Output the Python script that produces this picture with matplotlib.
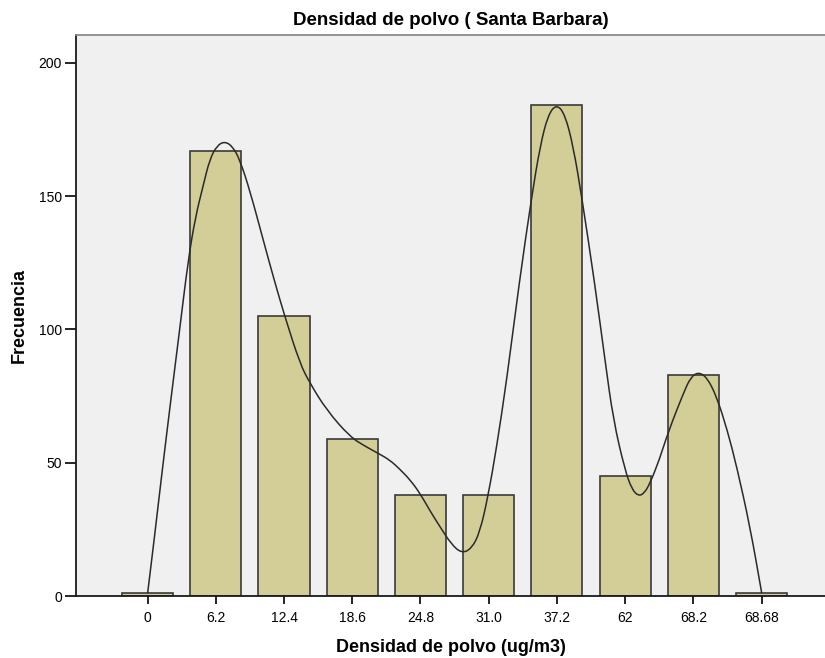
import matplotlib
matplotlib.use("Agg")
from matplotlib import pyplot as plt
from matplotlib import rcParams
from matplotlib.path import Path
from matplotlib.patches import PathPatch

rcParams["font.family"] = ["Liberation Sans", "DejaVu Sans"]

# categories (x tick labels) and frequencies
categories = ["0", "6.2", "12.4", "18.6", "24.8", "31.0", "37.2", "62", "68.2", "68.68"]
counts = [1, 167, 105, 59, 38, 38, 184, 45, 83, 1]

# smooth curve (x in category positions, y in frequency)
curve_x = [0.0, 0.1, 0.2, 0.34, 0.47, 0.595, 0.70, 0.815, 0.913, 1.02, 1.133,
           1.25, 1.353, 1.5, 1.695, 1.85, 2.013, 2.233, 2.38, 2.625, 2.967,
           3.2, 3.381, 3.55, 3.70, 3.85, 3.993, 4.15, 4.286, 4.45, 4.604, 4.75,
           4.872, 4.994, 5.117, 5.264, 5.45, 5.63, 5.752, 5.87, 5.997, 6.12,
           6.24, 6.364, 6.55, 6.705, 6.827, 6.998, 7.1, 7.194, 7.28, 7.365,
           7.5, 7.633, 7.853, 7.96, 8.073, 8.2, 8.343, 8.5, 8.636, 8.831, 9.003]
curve_y = [1, 22, 44, 73.5, 100, 126, 142, 154, 164, 169, 170.5,
           168.5, 163.5, 152, 133.5, 119, 104.7, 87.2, 79.8, 69.7, 59.7,
           56, 53.5, 51, 47.5, 43.5, 38.5, 31.5, 26, 19.5, 16, 17.8,
           24, 37.9, 56, 81, 118, 149.7, 168.5, 180.5, 184.5, 180.5,
           168.5, 149.7, 118, 88.5, 66, 47.2, 40, 37.5, 38.5, 42.3,
           51, 61.6, 76, 82, 84, 82, 74.7, 62, 48.5, 26, 1]


def smooth_path(xs, ys):
    # quadratic bezier through the midpoints, traced points as control points
    verts = [(xs[0], ys[0]), ((xs[0] + xs[1]) / 2, (ys[0] + ys[1]) / 2)]
    codes = [Path.MOVETO, Path.LINETO]
    for i in range(1, len(xs) - 1):
        verts += [(xs[i], ys[i]),
                  ((xs[i] + xs[i + 1]) / 2, (ys[i] + ys[i + 1]) / 2)]
        codes += [Path.CURVE3, Path.CURVE3]
    verts.append((xs[-1], ys[-1]))
    codes.append(Path.LINETO)
    return Path(verts, codes)


def plot():
    fig = plt.figure(figsize=(8.25, 6.58), dpi=100)
    ax = fig.add_axes([0.0921, 0.0942, 0.9079, 0.8526])
    ax.set_facecolor("#f0f0f0")

    pos = list(range(len(categories)))
    ax.bar(pos, counts, width=0.75, color="#d3ce97", edgecolor="#3a3a3a",
           linewidth=1.2, zorder=2)
    ax.add_patch(PathPatch(smooth_path(curve_x, curve_y), facecolor="none",
                           edgecolor="#2a2a2a", lw=1.1, zorder=3))

    ax.set_xlim(-1.05, 9.93)
    ax.set_ylim(0, 210.4)
    ax.set_xticks(pos)
    ax.set_xticklabels(categories)
    ax.set_yticks([0, 50, 100, 150, 200])
    ax.tick_params(axis="both", labelsize=10, colors="#000000", width=1.2)
    ax.tick_params(axis="y", length=8, pad=2)
    ax.tick_params(axis="x", length=6, pad=5)

    for side in ["left", "bottom"]:
        ax.spines[side].set_color("#1a1a1a")
        ax.spines[side].set_linewidth(1.3)
    ax.spines["top"].set_color("#8a8a8a")
    ax.spines["top"].set_linewidth(1.3)
    ax.spines["right"].set_visible(False)

    ax.set_title("Densidad de polvo ( Santa Barbara)", fontsize=13.5,
                 fontweight="bold", pad=7)
    ax.set_xlabel("Densidad de polvo (ug/m3)", fontsize=13, fontweight="bold",
                  labelpad=10)
    ax.set_ylabel("Frecuencia", fontsize=13, fontweight="bold", labelpad=8)

    fig.savefig("out.png", dpi=100)


def main():
    plot()


if __name__ == "__main__":
    main()
